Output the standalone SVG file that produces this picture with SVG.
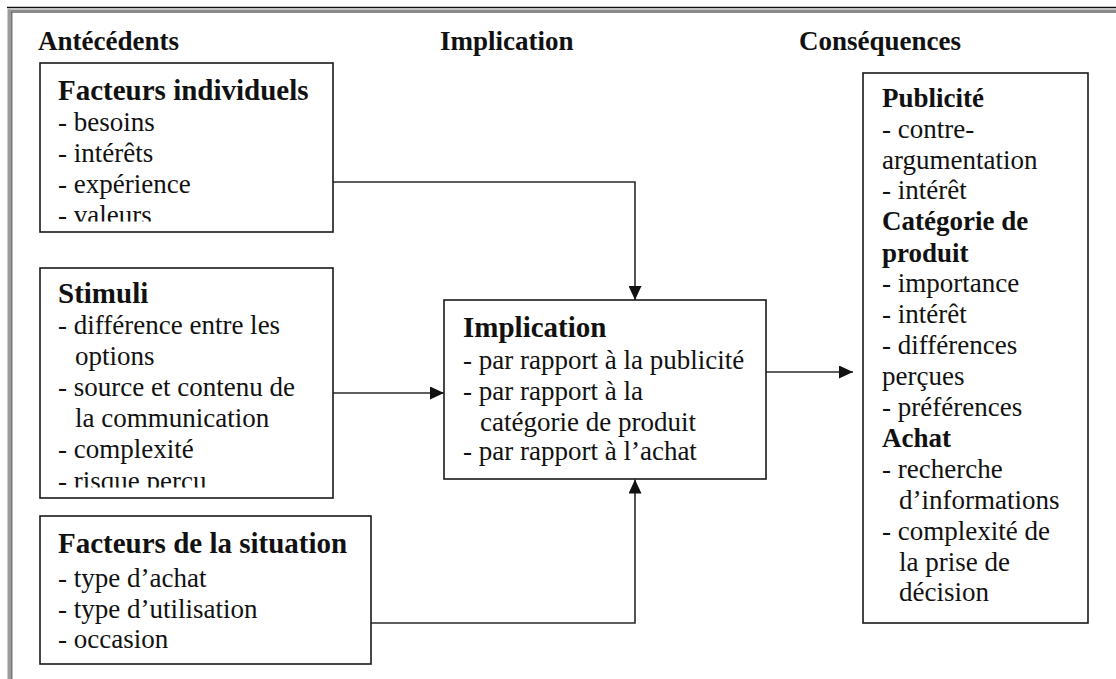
<svg xmlns="http://www.w3.org/2000/svg" width="1116" height="679" viewBox="0 0 1116 679">
  <style>
    text { font-family: "Liberation Serif", "Times New Roman", serif; fill: #111; }
    .col { font-size: 27px; font-weight: bold; }
    .hd { font-size: 29px; font-weight: bold; }
    .hd2 { font-size: 27px; font-weight: bold; }
    .tx { font-size: 27px; }
    .box { fill: #fff; stroke: #1a1a1a; stroke-width: 1.6; }
    .conn { fill: none; stroke: #2a2a2a; stroke-width: 1.6; }
  </style>
  <defs>
    <marker id="arrow" markerUnits="userSpaceOnUse" markerWidth="14" markerHeight="13" refX="14" refY="6.5" orient="auto">
      <path d="M0,0 L14,6.5 L0,13 z" fill="#111"/>
    </marker>
    <clipPath id="clip-indiv"><rect x="40" y="63" width="293" height="158.5"/></clipPath>
    <clipPath id="clip-stim"><rect x="40" y="268" width="293" height="219.5"/></clipPath>
  </defs>

  <!-- window frame -->
  <rect x="0" y="0" width="1116" height="679" fill="#fff"/>
  <rect x="8" y="9.5" width="1108" height="3.5" fill="#8a8a8a"/>
  <rect x="7.5" y="9.5" width="3.5" height="669.5" fill="#9a9a9a"/>
  <line x1="11.8" y1="12" x2="11.8" y2="679" stroke="#555" stroke-width="1.2"/>
  <line x1="7" y1="7.5" x2="1116" y2="7.5" stroke="#111" stroke-width="1.6"/>

  <!-- column labels -->
  <g id="labels">
    <text class="col" x="38" y="50">Antécédents</text>
    <text class="col" x="440" y="50">Implication</text>
    <text class="col" x="799" y="50">Conséquences</text>
  </g>

  <!-- connectors -->
  <g id="connectors">
    <path class="conn" d="M333,182 H635 V300" marker-end="url(#arrow)"/>
    <path class="conn" d="M333,393 H444" marker-end="url(#arrow)"/>
    <path class="conn" d="M371,623 H635 V479.5" marker-end="url(#arrow)"/>
    <path class="conn" d="M766,372 H853" marker-end="url(#arrow)"/>
  </g>

  <g id="facteurs-individuels">
    <rect class="box" x="40" y="63" width="293" height="169"/>
    <g clip-path="url(#clip-indiv)">
      <text class="hd" x="58" y="100">Facteurs individuels</text>
      <text class="tx" x="58" y="130.5">- besoins</text>
      <text class="tx" x="58" y="161.5">- intérêts</text>
      <text class="tx" x="58" y="192.5">- expérience</text>
      <text class="tx" x="58" y="224">- valeurs</text>
    </g>
  </g>

  <g id="stimuli">
    <rect class="box" x="40" y="268" width="293" height="230"/>
    <g clip-path="url(#clip-stim)">
      <text class="hd" x="58" y="303">Stimuli</text>
      <text class="tx" x="58" y="334">- différence entre les</text>
      <text class="tx" x="75" y="365">options</text>
      <text class="tx" x="58" y="396">- source et contenu de</text>
      <text class="tx" x="75" y="427">la communication</text>
      <text class="tx" x="58" y="458">- complexité</text>
      <text class="tx" x="58" y="490">- risque perçu</text>
    </g>
  </g>

  <g id="facteurs-situation">
    <rect class="box" x="40" y="516" width="331" height="148"/>
    <text class="hd" x="58" y="553">Facteurs de la situation</text>
    <text class="tx" x="58" y="587">- type d’achat</text>
    <text class="tx" x="58" y="617.5">- type d’utilisation</text>
    <text class="tx" x="58" y="648">- occasion</text>
  </g>

  <g id="implication">
    <rect class="box" x="444" y="300" width="322" height="179"/>
    <text class="hd" x="463" y="337">Implication</text>
    <text class="tx" x="463" y="369">- par rapport à la publicité</text>
    <text class="tx" x="463" y="399.5">- par rapport à la</text>
    <text class="tx" x="480" y="431">catégorie de produit</text>
    <text class="tx" x="463" y="460">- par rapport à l’achat</text>
  </g>

  <g id="consequences">
    <rect class="box" x="863" y="73" width="225" height="550"/>
    <text class="hd2" x="882" y="107">Publicité</text>
    <text class="tx" x="882" y="138">- contre-</text>
    <text class="tx" x="882" y="168.5">argumentation</text>
    <text class="tx" x="882" y="199">- intérêt</text>
    <text class="hd2" x="882" y="230">Catégorie de</text>
    <text class="hd2" x="882" y="261.5">produit</text>
    <text class="tx" x="882" y="292">- importance</text>
    <text class="tx" x="882" y="322.5">- intérêt</text>
    <text class="tx" x="882" y="353.5">- différences</text>
    <text class="tx" x="882" y="385">perçues</text>
    <text class="tx" x="882" y="416">- préférences</text>
    <text class="hd2" x="882" y="447">Achat</text>
    <text class="tx" x="882" y="478">- recherche</text>
    <text class="tx" x="899" y="508.5">d’informations</text>
    <text class="tx" x="882" y="540">- complexité de</text>
    <text class="tx" x="899" y="571">la prise de</text>
    <text class="tx" x="899" y="601">décision</text>
  </g>
</svg>
